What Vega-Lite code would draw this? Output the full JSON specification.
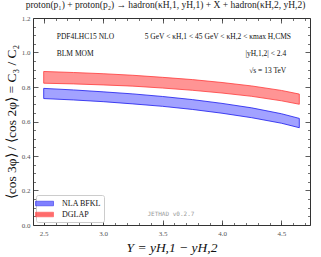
{
  "$schema": "https://vega.github.io/schema/vega-lite/v6.json",
  "width": 277,
  "height": 207,
  "autosize": {"type": "none"},
  "padding": {"left": 33, "top": 18, "right": 11, "bottom": 32},
  "title": {"text": "proton(p₁) + proton(p₂) → hadron(κH,1, yH,1) + X + hadron(κH,2, yH,2)", "font": "Liberation Serif", "fontSize": 9.5, "fontWeight": "normal", "color": "#222", "offset": 5, "anchor": "middle", "dx": -6},
  "config": {"view": {"stroke": "#333", "strokeWidth": 1}},
  "datasets": {
    "bands": [
      {"series": "NLA BFKL", "Y": 2.5, "lo": 0.733, "hi": 0.792},
      {"series": "NLA BFKL", "Y": 2.75, "lo": 0.725, "hi": 0.783},
      {"series": "NLA BFKL", "Y": 3.0, "lo": 0.715, "hi": 0.772},
      {"series": "NLA BFKL", "Y": 3.25, "lo": 0.702, "hi": 0.760},
      {"series": "NLA BFKL", "Y": 3.5, "lo": 0.688, "hi": 0.745},
      {"series": "NLA BFKL", "Y": 3.75, "lo": 0.670, "hi": 0.727},
      {"series": "NLA BFKL", "Y": 4.0, "lo": 0.648, "hi": 0.705},
      {"series": "NLA BFKL", "Y": 4.25, "lo": 0.622, "hi": 0.679},
      {"series": "NLA BFKL", "Y": 4.5, "lo": 0.590, "hi": 0.645},
      {"series": "NLA BFKL", "Y": 4.65, "lo": 0.564, "hi": 0.618},
      {"series": "DGLAP", "Y": 2.5, "lo": 0.822, "hi": 0.890},
      {"series": "DGLAP", "Y": 2.75, "lo": 0.818, "hi": 0.884},
      {"series": "DGLAP", "Y": 3.0, "lo": 0.812, "hi": 0.877},
      {"series": "DGLAP", "Y": 3.25, "lo": 0.805, "hi": 0.868},
      {"series": "DGLAP", "Y": 3.5, "lo": 0.794, "hi": 0.856},
      {"series": "DGLAP", "Y": 3.75, "lo": 0.781, "hi": 0.843},
      {"series": "DGLAP", "Y": 4.0, "lo": 0.765, "hi": 0.826},
      {"series": "DGLAP", "Y": 4.25, "lo": 0.746, "hi": 0.806},
      {"series": "DGLAP", "Y": 4.5, "lo": 0.720, "hi": 0.780},
      {"series": "DGLAP", "Y": 4.65, "lo": 0.700, "hi": 0.759}
    ]
  },
  "resolve": {"axis": {"x": "independent", "y": "independent"}},
  "layer": [
    {
      "data": {"name": "bands"},
      "mark": {"type": "area", "fillOpacity": 0.55, "strokeWidth": 0.8},
      "encoding": {
        "x": {"field": "Y", "type": "quantitative", "scale": {"domain": [2.41, 4.74], "nice": false, "zero": false},
              "axis": {"orient": "bottom", "values": [2.5, 3.0, 3.5, 4.0, 4.5], "format": ".1f", "ticks": false, "domain": false, "grid": false, "labelFont": "Liberation Serif", "labelFontSize": 7, "labelColor": "#555", "labelPadding": 4,
                       "title": "Y = yH,1 − yH,2", "titleFont": "Liberation Serif", "titleFontStyle": "italic", "titleFontWeight": "normal", "titleFontSize": 13.5, "titleColor": "#111", "titlePadding": 4}},
        "y": {"field": "hi", "type": "quantitative", "scale": {"domain": [0, 1.2], "nice": false, "zero": false},
              "axis": {"orient": "left", "values": [0, 0.2, 0.4, 0.6, 0.8, 1.0, 1.2], "format": ".1f", "ticks": false, "domain": false, "grid": false, "labelFont": "Liberation Serif", "labelFontSize": 7, "labelColor": "#555", "labelPadding": 3,
                       "title": "⟨cos 3φ⟩ / ⟨cos 2φ⟩ = C₃ / C₂", "titleFont": "Liberation Serif", "titleFontWeight": "normal", "titleFontSize": 13.5, "titleColor": "#111", "titlePadding": 3}},
        "y2": {"field": "lo"},
        "color": {"field": "series", "type": "nominal", "scale": {"domain": ["NLA BFKL", "DGLAP"], "range": ["#5555ff", "#ff3c3c"]},
                  "legend": {"title": null, "orient": "bottom-left", "offset": 3, "fillColor": "white", "strokeColor": "#cccccc", "cornerRadius": 2, "padding": 3, "rowPadding": 1,
                             "symbolType": "M-1.8,-0.45H1.8V0.45H-1.8Z", "symbolSize": 100, "symbolStrokeWidth": 0.8, "symbolOpacity": 0.75,
                             "labelFont": "Liberation Serif", "labelFontSize": 8, "labelColor": "#111", "labelOffset": 12}},
        "stroke": {"field": "series", "type": "nominal", "scale": {"domain": ["NLA BFKL", "DGLAP"], "range": ["#1a1aee", "#ff3a3a"]}, "legend": null}
      }
    },
    {
      "data": {"name": "bands"},
      "mark": {"type": "point", "opacity": 0},
      "encoding": {
        "x": {"field": "Y", "type": "quantitative", "axis": {"orient": "bottom", "values": [2.5, 3.0, 3.5, 4.0, 4.5], "labels": false, "domain": false, "grid": false, "tickSize": -5, "tickColor": "#333", "tickWidth": 0.8, "title": null}},
        "y": {"field": "hi", "type": "quantitative", "axis": {"orient": "left", "values": [0, 0.2, 0.4, 0.6, 0.8, 1.0, 1.2], "labels": false, "domain": false, "grid": false, "tickSize": -5, "tickColor": "#333", "tickWidth": 0.8, "title": null}}
      }
    },
    {
      "data": {"name": "bands"},
      "mark": {"type": "point", "opacity": 0},
      "encoding": {
        "x": {"field": "Y", "type": "quantitative", "axis": {"orient": "bottom", "values": [2.5, 2.6, 2.7, 2.8, 2.9, 3.0, 3.1, 3.2, 3.3, 3.4, 3.5, 3.6, 3.7, 3.8, 3.9, 4.0, 4.1, 4.2, 4.3, 4.4, 4.5, 4.6, 4.7], "labels": false, "domain": false, "grid": false, "tickSize": -2.5, "tickColor": "#333", "tickWidth": 0.7, "title": null}},
        "y": {"field": "hi", "type": "quantitative", "axis": {"orient": "left", "values": [0.05, 0.1, 0.15, 0.25, 0.3, 0.35, 0.45, 0.5, 0.55, 0.65, 0.7, 0.75, 0.85, 0.9, 0.95, 1.05, 1.1, 1.15], "labels": false, "domain": false, "grid": false, "tickSize": -2.5, "tickColor": "#333", "tickWidth": 0.7, "title": null}}
      }
    },
    {
      "data": {"name": "bands"},
      "mark": {"type": "point", "opacity": 0},
      "encoding": {
        "x": {"field": "Y", "type": "quantitative", "axis": {"orient": "top", "values": [2.5, 3.0, 3.5, 4.0, 4.5], "labels": false, "domain": false, "grid": false, "tickSize": -5, "tickColor": "#333", "tickWidth": 0.8, "title": null}},
        "y": {"field": "hi", "type": "quantitative", "axis": {"orient": "right", "values": [0, 0.2, 0.4, 0.6, 0.8, 1.0, 1.2], "labels": false, "domain": false, "grid": false, "tickSize": -5, "tickColor": "#333", "tickWidth": 0.8, "title": null}}
      }
    },
    {
      "data": {"name": "bands"},
      "mark": {"type": "point", "opacity": 0},
      "encoding": {
        "x": {"field": "Y", "type": "quantitative", "axis": {"orient": "top", "values": [2.5, 2.6, 2.7, 2.8, 2.9, 3.0, 3.1, 3.2, 3.3, 3.4, 3.5, 3.6, 3.7, 3.8, 3.9, 4.0, 4.1, 4.2, 4.3, 4.4, 4.5, 4.6, 4.7], "labels": false, "domain": false, "grid": false, "tickSize": -2.5, "tickColor": "#333", "tickWidth": 0.7, "title": null}},
        "y": {"field": "hi", "type": "quantitative", "axis": {"orient": "right", "values": [0.05, 0.1, 0.15, 0.25, 0.3, 0.35, 0.45, 0.5, 0.55, 0.65, 0.7, 0.75, 0.85, 0.9, 0.95, 1.05, 1.1, 1.15], "labels": false, "domain": false, "grid": false, "tickSize": -2.5, "tickColor": "#333", "tickWidth": 0.7, "title": null}}
      }
    },
    {
      "data": {"values": [
        {"x": 2.61, "y": 1.09, "t": "PDF4LHC15 NLO"},
        {"x": 2.61, "y": 0.991, "t": "BLM MOM"}
      ]},
      "mark": {"type": "text", "align": "left", "baseline": "middle", "font": "Liberation Serif", "fontSize": 7.5, "color": "#111"},
      "encoding": {
        "x": {"field": "x", "type": "quantitative", "axis": null},
        "y": {"field": "y", "type": "quantitative", "axis": null},
        "text": {"field": "t"}
      }
    },
    {
      "data": {"values": [
        {"x": 4.58, "y": 1.09, "t": "5 GeV < κH,1 < 45 GeV < κH,2 < κmax H,CMS"},
        {"x": 4.54, "y": 0.991, "t": "|yH,1,2| < 2.4"},
        {"x": 4.54, "y": 0.893, "t": "√s = 13 TeV"}
      ]},
      "mark": {"type": "text", "align": "right", "baseline": "middle", "font": "Liberation Serif", "fontSize": 7.5, "color": "#111"},
      "encoding": {
        "x": {"field": "x", "type": "quantitative", "axis": null},
        "y": {"field": "y", "type": "quantitative", "axis": null},
        "text": {"field": "t"}
      }
    },
    {
      "data": {"values": [
        {"x": 3.57, "y": 0.064, "t": "JETHAD v0.2.7"}
      ]},
      "mark": {"type": "text", "align": "center", "baseline": "middle", "font": "DejaVu Sans Mono", "fontSize": 6, "color": "#999"},
      "encoding": {
        "x": {"field": "x", "type": "quantitative", "axis": null},
        "y": {"field": "y", "type": "quantitative", "axis": null},
        "text": {"field": "t"}
      }
    }
  ]
}
